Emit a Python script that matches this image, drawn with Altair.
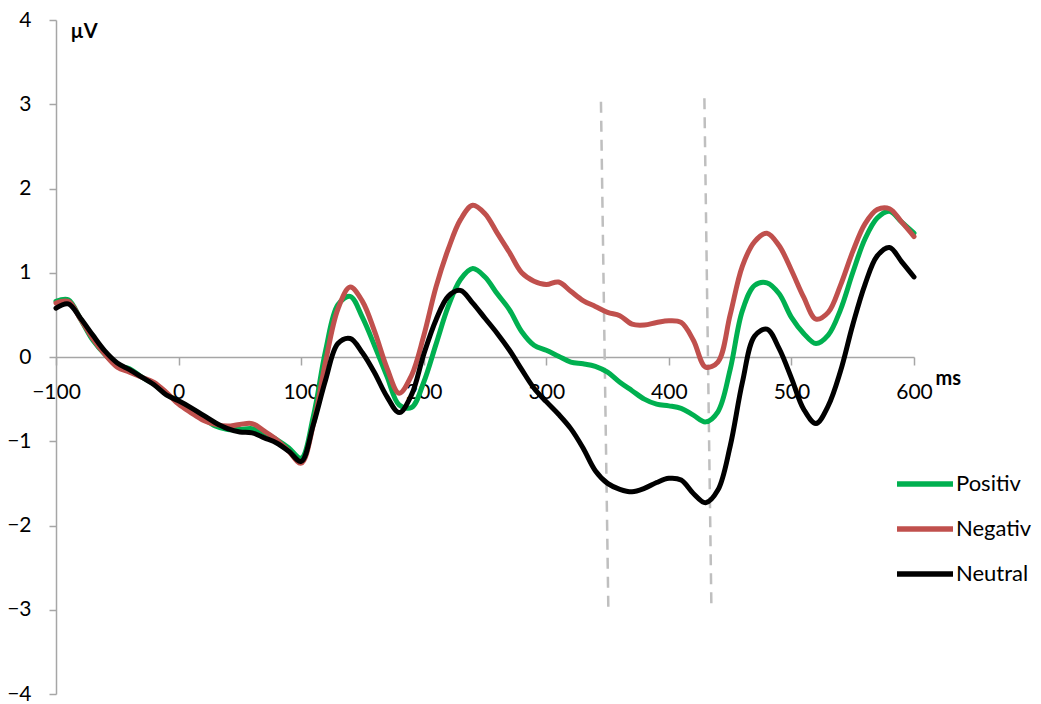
import altair as alt
import pandas as pd

# Time axis (ms) sampled every 10 ms
ms = list(range(-100, 601, 10))

# Grand-average ERP amplitudes (µV) per condition
positiv = [
    0.66, 0.68, 0.45, 0.20, 0.03, -0.10, -0.14, -0.24, -0.32, -0.44,
    -0.53, -0.62, -0.72, -0.82, -0.86, -0.86, -0.85, -0.90, -0.98, -1.08,
    -1.20, -0.70, 0.08, 0.62, 0.72, 0.47, 0.13, -0.23, -0.57, -0.60,
    -0.30, 0.15, 0.60, 0.92, 1.05, 0.95, 0.75, 0.56, 0.30, 0.14,
    0.08, 0.01, -0.06, -0.08, -0.11, -0.18, -0.30, -0.40, -0.50, -0.56,
    -0.58, -0.61, -0.69, -0.77, -0.65, -0.15, 0.55, 0.85, 0.88, 0.75,
    0.47, 0.28, 0.16, 0.26, 0.56, 1.00, 1.40, 1.65, 1.73, 1.60,
    1.47,
]
negativ = [
    0.64, 0.66, 0.45, 0.22, 0.03, -0.12, -0.18, -0.24, -0.30, -0.42,
    -0.56, -0.66, -0.75, -0.80, -0.82, -0.80, -0.79, -0.88, -0.98, -1.12,
    -1.26, -0.80, -0.05, 0.57, 0.83, 0.66, 0.30, -0.13, -0.43, -0.22,
    0.25, 0.83, 1.28, 1.63, 1.80, 1.70, 1.47, 1.24, 1.00, 0.90,
    0.86, 0.89, 0.78, 0.67, 0.60, 0.53, 0.49, 0.39, 0.38, 0.41,
    0.43, 0.41, 0.20, -0.12, -0.06, 0.50, 1.08, 1.37, 1.47, 1.32,
    1.03, 0.71, 0.45, 0.53, 0.85, 1.25, 1.58, 1.75, 1.76, 1.60,
    1.43,
]
neutral = [
    0.58, 0.63, 0.46, 0.26, 0.07, -0.07, -0.15, -0.24, -0.33, -0.45,
    -0.52, -0.60, -0.69, -0.78, -0.85, -0.89, -0.90, -0.96, -1.02, -1.12,
    -1.24, -0.80, -0.27, 0.16, 0.22, 0.05, -0.19, -0.47, -0.66, -0.45,
    0.03, 0.44, 0.72, 0.79, 0.64, 0.46, 0.28, 0.08, -0.15, -0.37,
    -0.53, -0.68, -0.85, -1.08, -1.35, -1.50, -1.57, -1.60, -1.56, -1.49,
    -1.44, -1.46, -1.62, -1.73, -1.58, -1.06, -0.30, 0.25, 0.33, 0.10,
    -0.25, -0.62, -0.79, -0.58, -0.17, 0.38, 0.86, 1.20, 1.30, 1.13,
    0.95,
]

series_names = ["Positiv", "Negativ", "Neutral"]
series_colors = ["#00B050", "#C0504D", "#000000"]

# Analysis window markers (dashed verticals)
marker_ms_top = [344.6, 429.0]
marker_ms_bottom = [350.7, 434.7]
marker_uv_top = [3.03, 3.07]
marker_uv_bottom = [-3.06, -2.97]

x_ticks = list(range(-100, 601, 100))
y_ticks = list(range(-4, 5))

rows = []
for name, values in zip(series_names, [positiv, negativ, neutral]):
    for t, v in zip(ms, values):
        rows.append({"ms": t, "uv": v, "series": name})
df = pd.DataFrame(rows)

markers_df = pd.DataFrame({
    "ms_top": marker_ms_top,
    "ms_bottom": marker_ms_bottom,
    "uv_top": marker_uv_top,
    "uv_bottom": marker_uv_bottom,
})

W, H = 858, 674
FONT = "Lato"
AXIS_GRAY = "#A6A6A6"

x_scale = alt.Scale(domain=[-100, 600], nice=False, zero=False)
y_scale = alt.Scale(domain=[-4, 4], nice=False, zero=False)
color_scale = alt.Scale(domain=series_names, range=series_colors)

x_axis = alt.Axis(
    values=x_ticks, format="d", offset=-H / 2, grid=False,
    domainColor=AXIS_GRAY, domainWidth=1.5,
    tickColor=AXIS_GRAY, tickWidth=1.5, tickSize=8,
    labelFont=FONT, labelFontSize=21, labelColor="black", labelPadding=16,
    labelFlush=False, labelOverlap=False,
    title="ms", titleFont=FONT, titleFontSize=20, titleFontWeight="bold",
    titleColor="black", titleX=879, titleY=27, titleAlign="left",
    titleBaseline="alphabetic",
)
y_axis = alt.Axis(
    values=y_ticks, format="d", grid=False,
    domainColor=AXIS_GRAY, domainWidth=1.5,
    tickColor=AXIS_GRAY, tickWidth=1.5, tickSize=7,
    labelFont=FONT, labelFontSize=21, labelColor="black", labelPadding=18,
    labelFlush=False, labelOverlap=False,
    title="µV", titleFont=FONT, titleFontSize=20, titleFontWeight="bold",
    titleColor="black", titleAngle=0, titleX=14, titleY=17, titleAlign="left",
    titleBaseline="alphabetic",
)

legend = alt.Legend(
    title=None, orient="none", legendX=838, legendY=433,
    symbolType="stroke", symbolSize=3136, symbolStrokeWidth=5.5,
    labelFont=FONT, labelFontSize=22, labelColor="black", labelOffset=0,
    rowPadding=3, padding=0,
)

markers = alt.Chart(markers_df).mark_rule(
    color="#BFBFBF", strokeWidth=2.5, strokeDash=[11, 8]
).encode(
    x=alt.X("ms_top:Q", scale=x_scale, axis=x_axis),
    x2="ms_bottom:Q",
    y=alt.Y("uv_top:Q", scale=y_scale, axis=y_axis),
    y2="uv_bottom:Q",
)


def series_layer(name):
    return alt.Chart(df).transform_filter(
        alt.datum.series == name
    ).mark_line(strokeWidth=5, interpolate="catmull-rom", strokeCap="round").encode(
        x=alt.X("ms:Q", scale=x_scale, axis=x_axis),
        y=alt.Y("uv:Q", scale=y_scale, axis=y_axis),
        color=alt.Color("series:N", scale=color_scale, legend=legend),
    )


chart = alt.layer(
    markers, *[series_layer(n) for n in series_names]
).properties(
    width=W, height=H,
    autosize=alt.AutoSizeParams(type="none"),
    padding={"left": 56, "top": 20, "right": 127, "bottom": 10},
    background="white",
).configure_view(stroke=None)

chart.save("out.html", embed_options={"renderer": "svg", "actions": False})
